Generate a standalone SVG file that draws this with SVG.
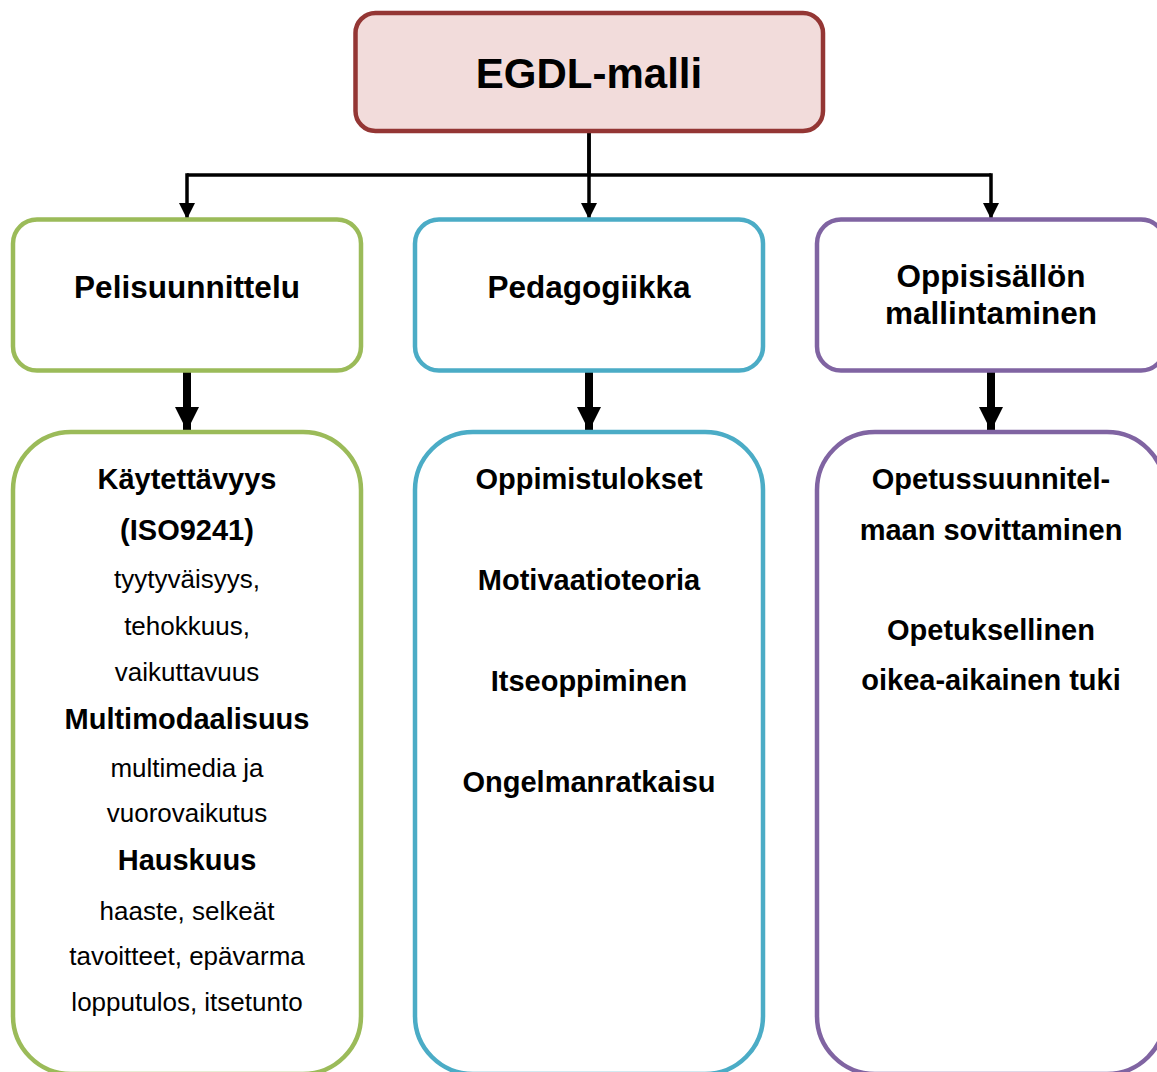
<svg xmlns="http://www.w3.org/2000/svg" width="1157" height="1072" viewBox="0 0 1157 1072">
  <style>
    text { font-family: "Liberation Sans", Arial, sans-serif; fill: #000; text-anchor: middle; }
    .title { font-size: 42px; font-weight: bold; }
    .head { font-size: 31.5px; font-weight: bold; }
    .b { font-size: 29px; font-weight: bold; }
    .r { font-size: 26px; }
    .green { fill: #fff; stroke: #9BBB59; stroke-width: 4.5; }
    .blue { fill: #fff; stroke: #4BACC6; stroke-width: 4.5; }
    .purple { fill: #fff; stroke: #8064A2; stroke-width: 4.5; }
    .line { fill: none; stroke: #000; stroke-width: 3.5; }
    .thick { fill: none; stroke: #000; stroke-width: 8; }
  </style>
  <defs>
    <marker id="tip" markerUnits="userSpaceOnUse" markerWidth="16" markerHeight="16" refX="16" refY="8" orient="auto" viewBox="0 0 16 16">
      <path d="M0,0 L16,8 L0,16 Z" fill="#000"/>
    </marker>
    <marker id="bigtip" markerUnits="userSpaceOnUse" markerWidth="24" markerHeight="24" refX="24" refY="12" orient="auto" viewBox="0 0 24 24">
      <path d="M0,0 L24,12 L0,24 Z" fill="#000"/>
    </marker>
  </defs>

  <!-- connectors -->
  <g id="connectors">
    <path class="line" d="M589,131 V175"/>
    <path class="line" d="M187,175 H991"/>
    <path class="line" d="M589,131 V219" marker-end="url(#tip)"/>
    <path class="line" d="M187,173.25 V219" marker-end="url(#tip)"/>
    <path class="line" d="M991,173.25 V219" marker-end="url(#tip)"/>
    <path class="thick" d="M187,371 V431" marker-end="url(#bigtip)"/>
    <path class="thick" d="M589,371 V431" marker-end="url(#bigtip)"/>
    <path class="thick" d="M991,371 V431" marker-end="url(#bigtip)"/>
  </g>

  <!-- root -->
  <g id="root">
    <rect x="355.5" y="13" width="467.5" height="118" rx="20" fill="#F2DCDB" stroke="#943634" stroke-width="4.5"/>
    <text class="title" x="589" y="88">EGDL-malli</text>
  </g>

  <!-- second level -->
  <g id="pelisuunnittelu">
    <rect class="green" x="13" y="219.5" width="348" height="151" rx="24"/>
    <text class="head" x="187" y="298">Pelisuunnittelu</text>
  </g>
  <g id="pedagogiikka">
    <rect class="blue" x="415" y="219.5" width="348" height="151" rx="24"/>
    <text class="head" x="589" y="298">Pedagogiikka</text>
  </g>
  <g id="oppisisallon-mallintaminen">
    <rect class="purple" x="817" y="219.5" width="348" height="151" rx="24"/>
    <text class="head" x="991" y="287">Oppisisällön</text>
    <text class="head" x="991" y="324">mallintaminen</text>
  </g>

  <!-- third level -->
  <g id="pelisuunnittelu-sisalto">
    <rect class="green" x="13" y="432" width="348" height="642" rx="58"/>
    <text class="b" x="187" y="489">Käytettävyys</text>
    <text class="b" x="187" y="540">(ISO9241)</text>
    <text class="r" x="187" y="588">tyytyväisyys,</text>
    <text class="r" x="187" y="635">tehokkuus,</text>
    <text class="r" x="187" y="681">vaikuttavuus</text>
    <text class="b" x="187" y="729">Multimodaalisuus</text>
    <text class="r" x="187" y="777">multimedia ja</text>
    <text class="r" x="187" y="822">vuorovaikutus</text>
    <text class="b" x="187" y="870">Hauskuus</text>
    <text class="r" x="187" y="920">haaste, selkeät</text>
    <text class="r" x="187" y="965">tavoitteet, epävarma</text>
    <text class="r" x="187" y="1011">lopputulos, itsetunto</text>
  </g>
  <g id="pedagogiikka-sisalto">
    <rect class="blue" x="415" y="432" width="348" height="642" rx="58"/>
    <text class="b" x="589" y="489">Oppimistulokset</text>
    <text class="b" x="589" y="590">Motivaatioteoria</text>
    <text class="b" x="589" y="691">Itseoppiminen</text>
    <text class="b" x="589" y="792">Ongelmanratkaisu</text>
  </g>
  <g id="mallintaminen-sisalto">
    <rect class="purple" x="817" y="432" width="348" height="642" rx="58"/>
    <text class="b" x="991" y="489">Opetussuunnitel-</text>
    <text class="b" x="991" y="540">maan sovittaminen</text>
    <text class="b" x="991" y="640">Opetuksellinen</text>
    <text class="b" x="991" y="690">oikea-aikainen tuki</text>
  </g>
</svg>
